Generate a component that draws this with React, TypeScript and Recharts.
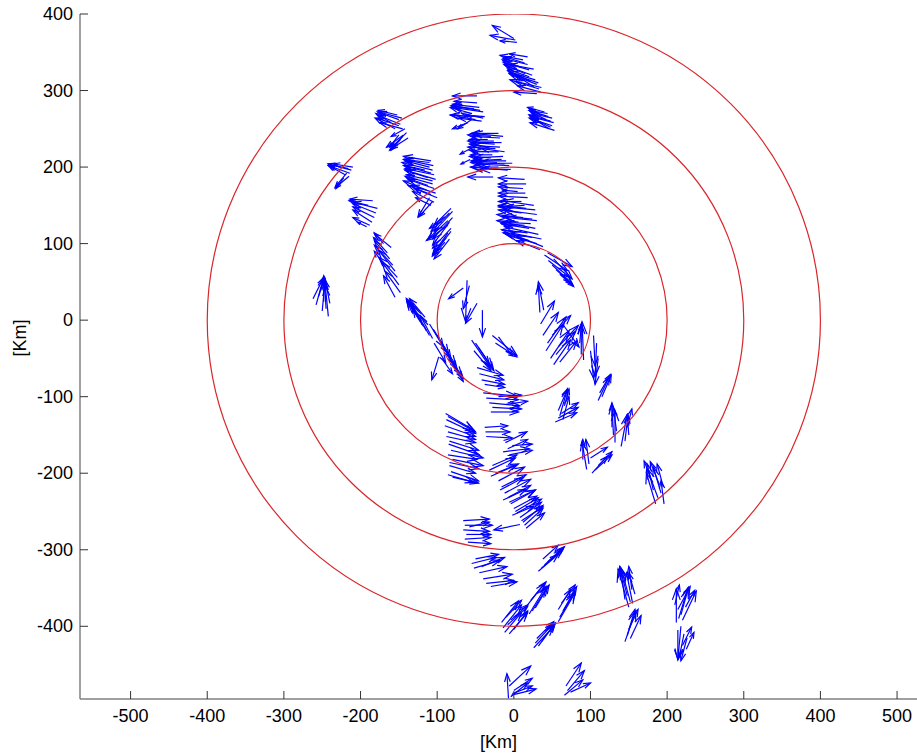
import React from 'react';
import { ScatterChart, Scatter, XAxis, YAxis } from 'recharts';

// axes
const X_DOMAIN: [number, number] = [-566, 526];
const Y_DOMAIN: [number, number] = [-495, 400];
const X_TICKS = [-500, -400, -300, -200, -100, 0, 100, 200, 300, 400, 500];
const Y_TICKS = [400, 300, 200, 100, 0, -100, -200, -300, -400];
const RING_RADII = [100, 200, 300, 400];

// wind vectors in km: [x, y, u, v]
type Arrow = [number, number, number, number];

const northArrows: Arrow[] = [
  [0, 368, -28, 17], [2, 366, -33, 6], [4, 363, -22, 2],
  [12, 340, -30, 6], [18, 334, -32, 8], [20, 327, -34, 10], [24, 320, -33, 12],
  [28, 314, -34, 10], [30, 308, -36, 14], [33, 302, -38, 12], [35, 298, -30, 8],
  [15, 322, -28, 12], [22, 312, -30, 14], [26, 305, -25, 16], [10, 330, -25, 10], [30, 296, -30, 2],
  [14, 336, -26, 8], [20, 318, -28, 10], [26, 328, -32, 6], [32, 310, -30, 10], [18, 344, -24, 4], [36, 304, -34, 8],
  [40, 272, -22, 6], [45, 266, -25, 8], [48, 260, -28, 8], [50, 254, -30, 10],
  [53, 248, -32, 10], [42, 262, -20, 10], [38, 256, -18, 12], [46, 250, -22, 14], [35, 268, -15, 8],
  [44, 270, -24, 4], [50, 264, -26, 6], [52, 258, -30, 8], [48, 252, -24, 12],
  [-48, 293, -32, 0], [-45, 278, -35, 4], [-40, 272, -40, 6], [-45, 266, -38, 2],
  [-50, 262, -32, 6], [-42, 260, -30, 4], [-55, 270, -28, 8], [-38, 266, -25, 2],
  [-55, 262, -18, -12], [-60, 258, -20, -8],
  [-48, 284, -30, 2], [-44, 274, -36, 6], [-52, 276, -30, 4], [-40, 264, -28, 6],
];

const northWestArrows: Arrow[] = [
  [-150, 262, -28, 10], [-148, 256, -30, 12], [-152, 268, -25, 6], [-155, 250, -26, 14],
  [-160, 258, -20, 12], [-145, 250, -30, 8], [-140, 245, -20, -20], [-138, 238, -22, -14],
  [-145, 240, -15, -18], [-150, 242, -12, -16], [-142, 250, -18, -10],
  [-146, 264, -30, 8], [-150, 254, -28, 10], [-144, 242, -22, -16], [-148, 236, -14, -14],
  [-20, 244, -36, 0], [-18, 238, -38, 2], [-16, 232, -40, 0], [-18, 226, -36, 2],
  [-20, 220, -34, 0], [-14, 214, -38, -2], [-10, 208, -42, 0], [-6, 202, -44, 2],
  [-4, 197, -40, 0], [-25, 230, -30, 2], [-28, 216, -28, 0], [-12, 220, -30, 4],
  [-22, 206, -32, 2], [-8, 196, -48, 4], [-55, 225, -15, -8], [-57, 210, -12, -6], [-27, 187, -33, 0],
  [-30, 240, -30, 2], [-26, 234, -34, 0], [-32, 226, -26, 4], [-24, 224, -36, 2],
  [-30, 212, -28, 2], [-16, 210, -40, -2], [-20, 200, -36, 0], [-12, 204, -44, 2],
  [-34, 236, -24, 0], [-36, 220, -22, 2], [-2, 205, -46, 0], [-14, 240, -40, 4],
  [-212, 196, -30, 8], [-214, 192, -28, 10], [-216, 198, -26, 6], [-220, 190, -22, 12],
  [-210, 200, -25, 4], [-218, 192, -15, -18], [-215, 188, -18, -15], [-222, 186, -10, -14],
  [-108, 208, -36, 6], [-105, 202, -38, 8], [-106, 196, -40, 10], [-104, 190, -38, 8],
  [-102, 184, -40, 12], [-106, 178, -36, 10], [-104, 172, -34, 12], [-102, 166, -32, 10],
  [-100, 160, -30, 12], [-104, 154, -28, 14], [-112, 186, -30, 10], [-110, 200, -32, 8],
  [-114, 170, -30, 12], [-108, 150, -20, 10], [-110, 160, -15, -25], [-106, 155, -18, -20],
  [-110, 206, -34, 4], [-108, 192, -36, 10], [-106, 182, -34, 8], [-108, 164, -30, 12],
  [-112, 176, -28, 10], [-116, 196, -26, 6],
  [14, 184, -34, 2], [16, 178, -36, 0], [12, 172, -32, 2], [15, 166, -35, 0],
  [18, 160, -38, 2], [10, 155, -30, 0], [14, 150, -34, -2], [5, 168, -20, 2],
  [-180, 140, -30, 12], [-182, 134, -28, 14], [-185, 128, -25, 16], [-178, 146, -32, 8],
  [-188, 124, -22, 10], [-190, 150, -25, 6], [-184, 156, -30, 2], [-192, 122, -12, 6],
];

const westArrows: Arrow[] = [
  [-82, 146, -22, -22], [-84, 140, -24, -24], [-80, 134, -26, -28], [-84, 128, -22, -30],
  [-82, 120, -24, -26], [-86, 114, -20, -28], [-88, 108, -18, -24], [-90, 102, -16, -18],
  [-86, 124, -28, -20], [-90, 135, -20, -15],
  [-80, 142, -24, -26], [-82, 116, -22, -28], [-86, 130, -26, -24], [-84, 106, -20, -26],
  [-160, 95, -22, 18], [-165, 88, -18, 20], [-162, 80, -20, 24], [-158, 72, -24, 26],
  [-155, 64, -22, 28], [-152, 56, -24, 26], [-150, 46, -22, 30], [-148, 36, -20, 28],
  [-170, 100, -12, 14], [-168, 70, -14, 20], [-155, 30, -15, 28],
  [-242, 5, -4, 40], [-250, 12, 4, 42], [-258, 20, 10, 36], [-262, 28, 14, 28],
  [-255, 30, 8, 25], [-245, 15, -2, 36], [-240, 22, -6, 30], [-248, 24, 0, 34],
  [-110, -20, -22, 38], [-114, -14, -20, 36], [-118, -8, -22, 34], [-122, -2, -18, 30],
  [-112, -6, -26, 28], [-116, 4, -20, 24], [-106, -24, -16, 30], [-126, 6, -14, 22],
  [-110, -5, 18, -30], [-105, -12, 20, -32], [-100, -20, 18, -30], [-96, -28, 20, -30],
  [-92, -36, 18, -28], [-88, -44, 20, -28], [-84, -52, 18, -24], [-80, -58, 14, -22],
  [-104, -30, 15, -25], [-94, -50, 14, -20], [-98, -48, -9, -30],
];

const innerArrows: Arrow[] = [
  [26, 150, -40, 6], [28, 144, -42, 4], [30, 138, -44, 6], [24, 132, -40, 4],
  [22, 126, -38, 2], [20, 120, -36, 6], [18, 114, -34, 4], [10, 140, -30, 4], [6, 128, -28, 2],
  [16, 146, -36, 4], [12, 134, -34, 4], [28, 120, -42, 8], [32, 112, -44, 10],
  [36, 106, -40, 8], [24, 108, -38, 6], [14, 124, -30, 2], [30, 130, -40, 4],
  [30, 100, -36, 10], [34, 92, -30, 12], [20, 104, -30, 8], [38, 96, -34, 14],
  [40, 85, 30, -20], [45, 78, 28, -22], [50, 72, 26, -24], [55, 66, 22, -20], [60, 60, 18, -16],
  [44, 88, 32, -18], [52, 80, 24, -26],
  [-66, 42, -19, -14], [-61, 52, -2, -54], [-48, 22, -15, -26], [-41, 13, 0, -35], [-58, 45, -8, -30],
  [-55, -26, 24, -35], [-50, -30, 22, -32], [-46, -36, 20, -30], [-52, -40, 22, -26],
  [-28, -20, 32, -26], [-20, -22, 18, -24], [-24, -30, 28, -18],
  [-48, -62, 34, -10], [-45, -70, 32, -8], [-42, -78, 30, -6], [-38, -84, 26, -4],
  [-40, -95, 44, -4], [-36, -102, 42, -2], [-32, -108, 40, -4], [-28, -114, 38, -2],
  [-30, -120, 36, 0], [-20, -100, 30, 2], [-10, -110, 28, 4],
  [39, 13, -7, 37], [34, 10, -2, 35], [42, -40, 22, 34], [48, -50, 24, 36], [52, -58, 22, 32],
  [38, -20, 20, 30], [44, -30, 24, 34], [55, -45, 25, 30], [60, -55, 22, 28], [35, -5, 18, 30],
  [50, -20, 24, 26], [58, -35, 26, 28], [65, -7, 20, -28],
  [91, -52, -2, 50], [88, -45, 0, 40], [86, -30, 2, 25],
  [104, -20, 2, -40], [108, -30, -2, -44], [100, -40, 4, -36], [110, -50, -4, -34],
];

const southArrows: Arrow[] = [
  [60, -125, 10, 35], [64, -130, 8, 30], [58, -118, 12, 28], [66, -112, 6, 22],
  [54, -133, 28, 12], [58, -128, 26, 14], [62, -122, 22, 14],
  [110, -105, 15, 32], [115, -100, 12, 28], [112, -95, 14, 24],
  [130, -150, -2, 40], [128, -140, 0, 32], [132, -160, 0, 42], [134, -145, -4, 30],
  [140, -165, 8, 42], [145, -158, 4, 34], [150, -150, -2, 26], [148, -140, 6, 24],
  [-89, -122, 37, -22], [-88, -130, 38, -18], [-90, -138, 40, -14], [-86, -146, 36, -10],
  [-88, -152, 38, -8], [-85, -162, 40, -14], [-82, -170, 42, -10], [-86, -176, 38, -6],
  [-80, -182, 40, -8], [-84, -190, 34, -10], [-82, -198, 36, -12], [-80, -205, 34, -8],
  [-86, -126, 36, -20], [-84, -158, 38, -12], [-84, -186, 38, -8], [-86, -202, 34, -10],
  [-37, -146, 32, 0], [-36, -152, 34, -2], [-38, -140, 30, 2], [-11, -160, 28, 14],
  [-8, -168, 26, 12], [-14, -172, 34, 4], [-6, -176, 30, 6], [-2, -164, 26, 2],
  [-32, -196, 34, 16], [-28, -190, 32, 14], [-24, -200, 30, 12], [-20, -210, 34, 18],
  [-16, -218, 32, 16], [-12, -226, 34, 18], [-8, -232, 30, 16], [-4, -240, 32, 18],
  [0, -246, 30, 16], [4, -252, 32, 18], [8, -258, 28, 20], [12, -264, 26, 22],
  [16, -272, 24, 20], [-14, -235, 30, 14], [-2, -255, 28, 12], [8, -267, -34, -7],
  [-30, -204, 32, 14], [-18, -222, 30, 16], [-6, -238, 34, 16], [2, -250, 30, 18],
  [10, -262, 28, 18], [14, -268, 24, 22],
  [-66, -262, 34, 2], [-64, -268, 36, 0], [-66, -274, 34, -2], [-62, -280, 32, 0],
  [-64, -286, 34, 2], [-60, -290, 30, -2], [-58, -270, 26, 6],
  [95, -195, -6, 36], [98, -188, -4, 32], [90, -182, 0, 26], [102, -200, 20, 22],
  [106, -196, 22, 20], [110, -190, 18, 18], [100, -180, 22, 14],
  [185, -240, -12, 40], [188, -232, -14, 38], [192, -226, -10, 34], [195, -218, -8, 30],
  [190, -215, -12, 30], [182, -222, -8, 34], [196, -240, -4, 30], [180, -210, -10, 26],
];

const farSouthArrows: Arrow[] = [
  [-55, -318, 32, 8], [-52, -324, 34, 10], [-50, -312, 30, 6], [-45, -330, 36, 8],
  [-40, -338, 38, 6], [-36, -344, 36, 4], [-30, -348, 34, 6], [-42, -322, 30, 12],
  [32, -328, 26, 22], [36, -324, 28, 24], [40, -320, 24, 22], [44, -316, 22, 20], [38, -312, 20, 18],
  [-16, -395, 22, 28], [-14, -402, 24, 30], [-12, -408, 22, 26], [-8, -398, 26, 24],
  [-6, -410, 24, 28], [-10, -388, 20, 22], [-4, -392, 22, 20], [0, -404, 18, 24],
  [20, -384, 22, 36], [24, -380, 20, 32], [18, -372, 22, 28], [28, -376, 18, 30], [22, -366, 20, 24],
  [58, -394, 22, 38], [60, -388, 20, 34], [64, -380, 18, 32], [58, -378, 16, 26], [62, -370, 18, 24],
  [26, -428, 26, 28], [28, -422, 24, 26], [32, -426, 22, 30], [30, -416, 22, 22], [36, -420, 18, 24],
  [150, -375, -14, 50], [152, -368, -12, 44], [148, -360, -10, 38], [155, -370, -8, 40],
  [145, -365, -6, 42], [154, -352, -4, 30], [158, -358, -8, 28],
  [145, -420, 14, 40], [148, -412, 10, 34], [150, -404, 12, 26], [152, -416, 14, 30],
  [212, -395, 0, 44], [215, -390, 12, 40], [218, -385, 10, 36], [214, -378, 16, 30],
  [220, -392, 18, 38], [210, -372, 6, 26], [224, -375, 12, 22],
  [218, -400, -4, -44], [214, -405, 0, -38], [222, -410, -6, -30], [226, -415, -8, -30],
  [220, -425, 12, 24], [225, -430, 10, 22],
  [-7, -494, -2, 32], [-4, -492, 22, 18], [-2, -488, 26, 10], [0, -484, 24, 16],
  [-6, -478, 28, 26], [-3, -490, 32, 8],
  [66, -490, 24, 20], [70, -484, 22, 26], [68, -478, 20, 30], [74, -486, 26, 12],
];

const WIDTH = 917;
const HEIGHT = 753;
const MARGIN = { top: 14, right: 0, bottom: 0, left: 0 };
const Y_AXIS_W = 80;
const X_AXIS_H = 54;
const KX = (WIDTH - MARGIN.left - MARGIN.right - Y_AXIS_W) / (X_DOMAIN[1] - X_DOMAIN[0]);
const KY = (HEIGHT - MARGIN.top - MARGIN.bottom - X_AXIS_H) / (Y_DOMAIN[1] - Y_DOMAIN[0]);

const FONT = 'Arial, "Liberation Sans", sans-serif';

const arrowData = [
  ...northArrows, ...northWestArrows, ...westArrows,
  ...innerArrows, ...southArrows, ...farSouthArrows,
].map(([x, y, u, v]) => ({ x, y, u, v }));

const ringData = RING_RADII.map((r) => ({ x: 0, y: 0, r }));

const ArrowShape = (props: any) => {
  const { cx, cy, payload } = props;
  const dx = payload.u * KX;
  const dy = -payload.v * KY;
  const x2 = cx + dx;
  const y2 = cy + dy;
  const len = Math.hypot(dx, dy);
  const ang = Math.atan2(dy, dx);
  const h = len * 0.35;
  const spread = 0.34;
  const a1 = ang + Math.PI - spread;
  const a2 = ang + Math.PI + spread;
  return (
    <g stroke="#0000ff" strokeWidth={1.2} fill="none">
      <line x1={cx} y1={cy} x2={x2} y2={y2} />
      <polyline
        points={`${x2 + h * Math.cos(a1)},${y2 + h * Math.sin(a1)} ${x2},${y2} ${x2 + h * Math.cos(a2)},${y2 + h * Math.sin(a2)}`}
      />
    </g>
  );
};

const RingShape = (props: any) => {
  const { cx, cy, payload } = props;
  return (
    <ellipse cx={cx} cy={cy} rx={payload.r * KX} ry={payload.r * KY} fill="none" stroke="#d9262b" strokeWidth={1.2} />
  );
};

const XTick = (props: any) => {
  const { x, y, payload } = props;
  return (
    <g>
      <line x1={x} y1={y} x2={x} y2={y - 8} stroke="#333" strokeWidth={1} />
      <text x={x} y={y + 23} textAnchor="middle" style={{ fontSize: 18, fontFamily: FONT }} fill="#000">
        {payload.value}
      </text>
    </g>
  );
};

const YTick = (props: any) => {
  const { x, y, payload } = props;
  return (
    <g>
      <line x1={x} y1={y} x2={x + 8} y2={y} stroke="#333" strokeWidth={1} />
      <text x={x - 7} y={y + 6} textAnchor="end" style={{ fontSize: 18, fontFamily: FONT }} fill="#000">
        {payload.value}
      </text>
    </g>
  );
};

export default function App() {
  return (
    <div style={{ position: 'absolute', left: 0, top: 0, width: WIDTH, height: HEIGHT, background: '#fff' }}>
      <ScatterChart width={WIDTH} height={HEIGHT} margin={MARGIN}>
        <XAxis
          type="number"
          dataKey="x"
          domain={X_DOMAIN}
          ticks={X_TICKS}
          allowDataOverflow
          height={X_AXIS_H}
          axisLine={{ stroke: '#808080', strokeWidth: 1.5 }}
          tickLine={false}
          tickSize={0}
          tickMargin={0}
          tick={<XTick />}
          interval={0}
          label={{ value: '[Km]', position: 'insideBottom', offset: 5, style: { fontSize: 18, fontFamily: FONT }, fill: '#000' }}
        />
        <YAxis
          type="number"
          dataKey="y"
          domain={Y_DOMAIN}
          ticks={Y_TICKS}
          allowDataOverflow
          width={Y_AXIS_W}
          axisLine={{ stroke: '#808080', strokeWidth: 1.5 }}
          tickLine={false}
          tickSize={0}
          tickMargin={0}
          tick={<YTick />}
          interval={0}
          label={{ value: '[Km]', angle: -90, position: 'insideLeft', offset: 20, style: { fontSize: 18, fontFamily: FONT }, fill: '#000' }}
        />
        <Scatter data={arrowData} shape={<ArrowShape />} isAnimationActive={false} />
        <Scatter data={ringData} shape={<RingShape />} isAnimationActive={false} />
      </ScatterChart>
    </div>
  );
}
